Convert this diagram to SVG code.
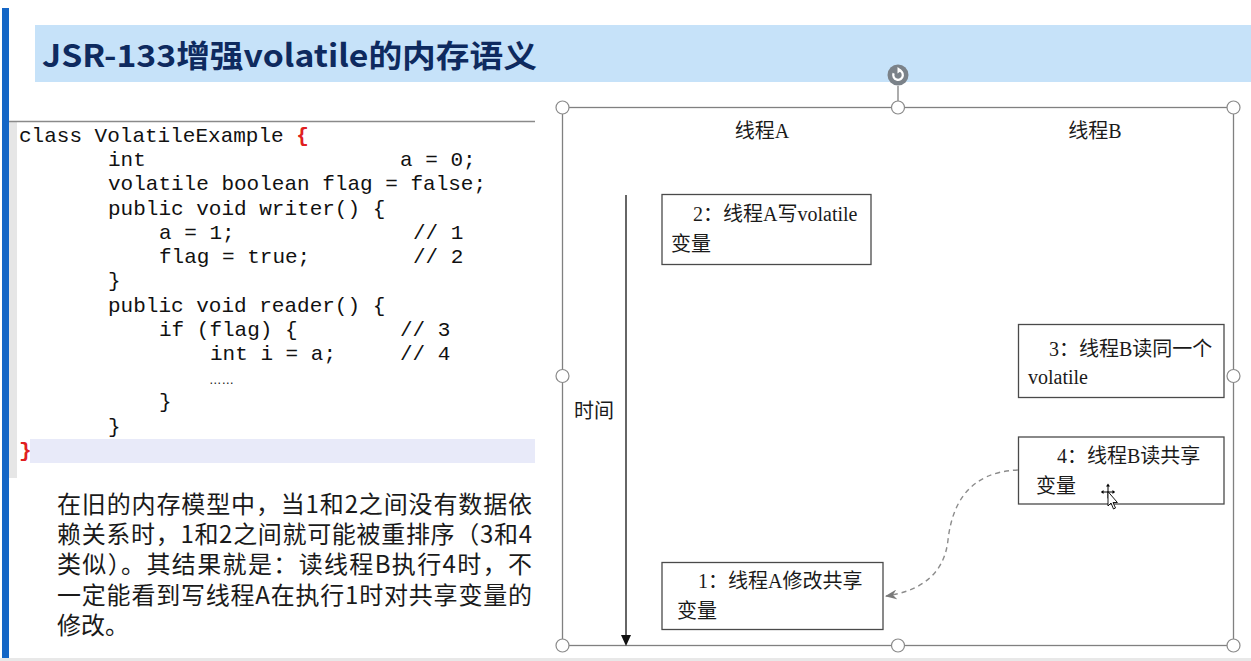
<svg xmlns="http://www.w3.org/2000/svg" width="1251" height="661" viewBox="0 0 1251 661">
  <defs>
    <style>
      .code { font-family: "Liberation Mono", "Courier New", monospace; font-size: 21px; fill: #111; white-space: pre; }
      .brace { fill: #e02020; font-weight: bold; }
      .note { font-family: "Noto Sans CJK SC", "Noto Sans", sans-serif; font-size: 24px; fill: #1a1a1a; }
      .lbl { font-family: "Liberation Serif", "Noto Sans CJK SC", serif; font-size: 20px; fill: #1a1a1a; }
      .box { fill: #ffffff; stroke: #4a4a4a; stroke-width: 1.3; }
      .frame { fill: none; stroke: #808080; stroke-width: 1.3; }
      .handle { fill: #ffffff; stroke: #8a8a8a; stroke-width: 1.2; }
      .dash { fill: none; stroke: #8c8c8c; stroke-width: 1.4; stroke-dasharray: 5 4; }
    </style>
    <marker id="openHead" viewBox="0 0 12 10" refX="11" refY="5" markerWidth="12" markerHeight="10" markerUnits="userSpaceOnUse" orient="auto">
      <path d="M0,0 L12,5 L0,10 L4,5 z" fill="#7a7a7a"/>
    </marker>
  </defs>

  <!-- page background -->
  <rect x="0" y="0" width="1251" height="661" fill="#ffffff"/>
  <rect x="0" y="658" width="1251" height="3" fill="#e8e8e8"/>
  <rect x="2" y="8" width="7" height="650" fill="#1466c6"/>

  <!-- title band -->
  <g id="title">
    <rect x="35" y="25" width="1216" height="57" fill="#c6e2f9"/>
    <text x="42" y="67" font-family="Noto Sans CJK SC, Noto Sans, sans-serif" font-size="31" font-weight="bold" fill="#0e2a5f" textLength="495" lengthAdjust="spacingAndGlyphs">JSR-133增强volatile的内存语义</text>
  </g>

  <!-- code listing -->
  <g id="code">
    <rect x="9" y="121" width="8" height="357" fill="#e6e6e6"/>
    <line x1="9" y1="121.5" x2="535" y2="121.5" stroke="#8a8a8a" stroke-width="1.5"/>
    <rect x="30" y="439" width="505" height="24" fill="#e8eaf9"/>
    <text class="code" x="19" y="142">class VolatileExample <tspan class="brace">{</tspan></text>
    <text class="code" x="108" y="166">int</text>
    <text class="code" x="400" y="166">a = 0;</text>
    <text class="code" x="108" y="190">volatile boolean flag = false;</text>
    <text class="code" x="108" y="215">public void writer() {</text>
    <text class="code" x="159" y="239">a = 1;</text>
    <text class="code" x="413" y="239">// 1</text>
    <text class="code" x="159" y="263">flag = true;</text>
    <text class="code" x="413" y="263">// 2</text>
    <text class="code" x="108" y="287">}</text>
    <text class="code" x="108" y="312">public void reader() {</text>
    <text class="code" x="159" y="336">if (flag) {</text>
    <text class="code" x="400" y="336">// 3</text>
    <text class="code" x="210" y="360">int i = a;</text>
    <text class="code" x="400" y="360">// 4</text>
    <text x="209" y="384" font-family="Liberation Sans, sans-serif" font-size="12.5" fill="#111">……</text>
    <text class="code" x="159" y="408">}</text>
    <text class="code" x="108" y="433">}</text>
    <text class="code brace" x="19" y="457">}</text>
  </g>

  <!-- explanatory paragraph -->
  <g id="note">
    <text class="note" x="57" y="513" textLength="475" lengthAdjust="spacing">在旧的内存模型中，当1和2之间没有数据依</text>
    <text class="note" x="57" y="543" textLength="475" lengthAdjust="spacing">赖关系时，1和2之间就可能被重排序（3和4</text>
    <text class="note" x="57" y="573" textLength="475" lengthAdjust="spacing">类似）。其结果就是：读线程B执行4时，不</text>
    <text class="note" x="57" y="604" textLength="475" lengthAdjust="spacing">一定能看到写线程A在执行1时对共享变量的</text>
    <text class="note" x="57" y="634">修改。</text>
  </g>

  <!-- selected drawing frame with handles -->
  <g id="frame">
    <rect class="frame" x="562.5" y="107.5" width="671" height="538"/>
    <line x1="898" y1="86" x2="898" y2="101" stroke="#808080" stroke-width="1.3"/>
    <circle cx="898" cy="75" r="10.5" fill="#7b8289"/>
    <path d="M893.6,73.2 A4.8,4.8 0 1 0 898,70.2" fill="none" stroke="#ffffff" stroke-width="2.3"/>
    <path d="M897.5,67 L902,70.3 L897.5,73.6 z" fill="#ffffff"/>
    <circle class="handle" cx="562.5" cy="107.5" r="6.5"/>
    <circle class="handle" cx="898" cy="107.5" r="6.5"/>
    <circle class="handle" cx="1233.5" cy="107.5" r="6.5"/>
    <circle class="handle" cx="562.5" cy="376" r="6.5"/>
    <circle class="handle" cx="1233.5" cy="376" r="6.5"/>
    <circle class="handle" cx="562.5" cy="645.5" r="6.5"/>
    <circle class="handle" cx="898" cy="645.5" r="6.5"/>
    <circle class="handle" cx="1233.5" cy="645.5" r="6.5"/>
  </g>

  <!-- column headings and time axis -->
  <g id="headA"><text class="lbl" x="762" y="138" text-anchor="middle">线程A</text></g>
  <g id="headB"><text class="lbl" x="1095" y="138" text-anchor="middle">线程B</text></g>
  <g id="timeAxis">
    <line x1="626" y1="195" x2="626" y2="636" stroke="#333" stroke-width="1.5"/>
    <path d="M621,635 L631,635 L626,646 z" fill="#111"/>
    <text class="lbl" x="574" y="418">时间</text>
  </g>

  <!-- event boxes -->
  <g id="box2">
    <rect class="box" x="662" y="194.5" width="209" height="70"/>
    <text class="lbl" x="693" y="221">2：线程A写volatile</text>
    <text class="lbl" x="671" y="251">变量</text>
  </g>
  <g id="box3">
    <rect class="box" x="1018.5" y="324.5" width="205.5" height="73"/>
    <text class="lbl" x="1049" y="356">3：线程B读同一个</text>
    <text class="lbl" x="1028" y="384">volatile</text>
  </g>
  <g id="box4">
    <rect class="box" x="1018.5" y="437" width="205.5" height="67"/>
    <text class="lbl" x="1057" y="463">4：线程B读共享</text>
    <text class="lbl" x="1036" y="493">变量</text>
  </g>
  <g id="box1">
    <rect class="box" x="662" y="562.5" width="221" height="67"/>
    <text class="lbl" x="698" y="588">1：线程A修改共享</text>
    <text class="lbl" x="677" y="618">变量</text>
  </g>

  <!-- connectors -->
  <g id="connectors">
    <path class="dash" d="M1018,470 C968,472 952,505 948,540 C944,578 915,592 886,596" marker-end="url(#openHead)"/>
  </g>

  <!-- pointer -->
  <g id="pointer" stroke-linecap="round">
    <path d="M1108,486 L1108,498 M1102,492 L1114,492" stroke="#000" stroke-width="1"/>
    <path d="M1108,483.5 L1106,486.5 L1110,486.5 z M1101,492 L1103.5,490 L1103.5,494 z M1115,492 L1112.5,490 L1112.5,494 z" fill="#000"/>
    <path d="M1108,492 L1108,506 L1111,503 L1113.5,509 L1115.5,508 L1113,502.5 L1117,502.5 z" fill="#fff" stroke="#000" stroke-width="0.9" stroke-linejoin="round"/>
  </g>
</svg>
